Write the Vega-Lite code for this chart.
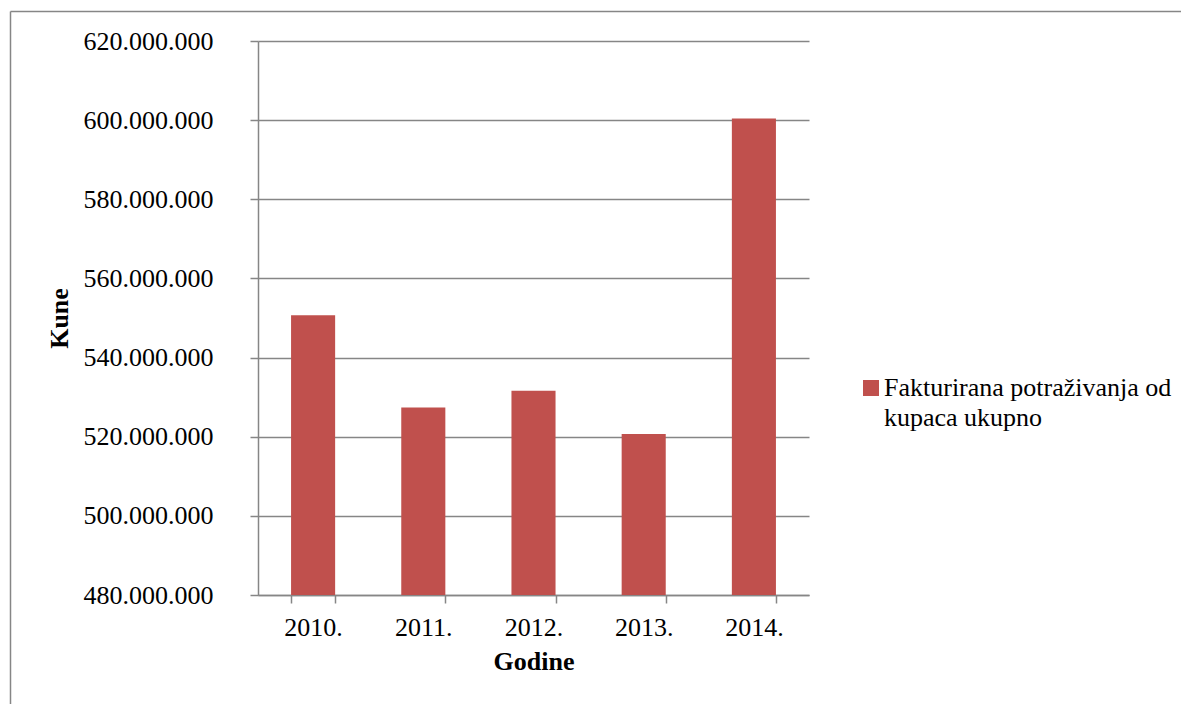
{
  "$schema": "https://vega.github.io/schema/vega-lite/v6.json",
  "autosize": {"type": "none"},
  "padding": {"left": 10, "top": 11, "right": 0, "bottom": 0},
  "width": 1171,
  "height": 693,
  "background": "white",
  "data": {
    "values": [
      {"godina": "2010.", "iznos": 550700000, "serija": "Fakturirana potraživanja od kupaca ukupno"},
      {"godina": "2011.", "iznos": 527400000, "serija": "Fakturirana potraživanja od kupaca ukupno"},
      {"godina": "2012.", "iznos": 531600000, "serija": "Fakturirana potraživanja od kupaca ukupno"},
      {"godina": "2013.", "iznos": 520700000, "serija": "Fakturirana potraživanja od kupaca ukupno"},
      {"godina": "2014.", "iznos": 600400000, "serija": "Fakturirana potraživanja od kupaca ukupno"}
    ]
  },
  "layer": [
    {
      "mark": {"type": "point", "opacity": 0},
      "encoding": {
        "x": {
          "field": "godina",
          "type": "nominal",
          "sort": null,
          "axis": {
            "orient": "top",
            "domain": true,
            "ticks": false,
            "labels": false,
            "grid": false,
            "title": null
          }
        },
        "y": {
          "field": "iznos",
          "type": "quantitative",
          "axis": {
            "orient": "left",
            "domain": true,
            "ticks": false,
            "labels": false,
            "grid": false,
            "title": null
          }
        }
      }
    },
    {
      "mark": {"type": "bar"},
      "encoding": {
        "x": {
          "field": "godina",
          "type": "nominal",
          "sort": null,
          "title": "Godine",
          "scale": {"range": [248, 799], "paddingInner": 0.6, "paddingOuter": 0.3},
          "axis": {
            "orient": "bottom",
            "offset": -109,
            "labelAngle": 0,
            "tickBand": "extent",
            "tickSize": 8,
            "labelPadding": 11,
            "titlePadding": 8
          }
        },
        "y": {
          "field": "iznos",
          "type": "quantitative",
          "title": "Kune",
          "scale": {"domain": [480000000, 620000000], "zero": false, "nice": false, "range": [584, 30]},
          "axis": {
            "orient": "left",
            "offset": -248,
            "values": [480000000, 500000000, 520000000, 540000000, 560000000, 580000000, 600000000, 620000000],
            "format": ",d",
            "tickSize": 8,
            "labelPadding": 37,
            "titlePadding": 11,
            "grid": true
          }
        },
        "y2": {"datum": 480000000},
        "color": {
          "field": "serija",
          "type": "nominal",
          "title": null,
          "scale": {"range": ["#C0504D"]},
          "legend": {
            "orient": "none",
            "legendX": 848,
            "legendY": 372,
            "symbolType": "M-1,-2H1V0H-1Z",
            "symbolSize": 256,
            "symbolStrokeWidth": 0,
            "labelOffset": 0,
            "labelBaseline": "alphabetic",
            "labelLimit": 400,
            "labelExpr": "['Fakturirana potraživanja od', 'kupaca ukupno']"
          }
        }
      }
    }
  ],
  "resolve": {
    "scale": {"x": "independent", "y": "independent"},
    "axis": {"x": "independent", "y": "independent"}
  },
  "config": {
    "locale": {
      "number": {"decimal": ",", "thousands": ".", "grouping": [3], "currency": ["", " kn"]}
    },
    "font": "Liberation Serif, Times New Roman, serif",
    "view": {"stroke": null},
    "axis": {
      "labelFont": "Liberation Serif, Times New Roman, serif",
      "labelFontSize": 26,
      "labelColor": "#000000",
      "titleFont": "Liberation Serif, Times New Roman, serif",
      "titleFontSize": 26,
      "titleFontWeight": "bold",
      "titleColor": "#000000",
      "domainColor": "#868686",
      "domainWidth": 1.5,
      "tickColor": "#868686",
      "tickWidth": 1.5,
      "gridColor": "#868686",
      "gridWidth": 1.5,
      "gridOpacity": 1
    },
    "legend": {
      "labelFont": "Liberation Serif, Times New Roman, serif",
      "labelFontSize": 26,
      "labelColor": "#000000",
      "padding": 0
    },
    "style": {"guide-label": {"lineHeight": 30}}
  }
}
